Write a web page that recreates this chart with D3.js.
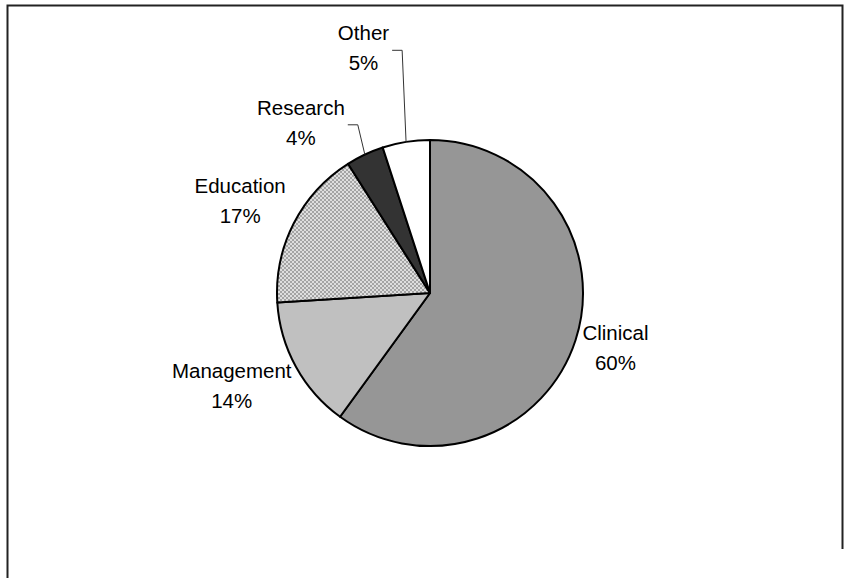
<!DOCTYPE html>
<html>
<head>
<meta charset="utf-8">
<script src="https://cdn.jsdelivr.net/npm/d3@7"></script>
<style>
  html, body { margin: 0; padding: 0; background: #fff; }
  svg { display: block; }
  text { font-family: "Liberation Sans", Arial, sans-serif; font-size: 20.5px; fill: #000; }
</style>
</head>
<body>
<svg id="chart" width="844" height="578"></svg>
<script>
// Share of time by activity (percent)
const categories = ["Clinical", "Management", "Education", "Research", "Other"];
const shares = [60, 14, 17, 4, 5];

const W = 844, H = 578;
const cx = 430, cy = 293, radius = 153;

const fills = {
  Clinical: "#969696",
  Management: "#c0c0c0",
  Education: "url(#dots)",
  Research: "#333333",
  Other: "#ffffff"
};

// Labels sit just outside the rim; small slices are pulled out and get leader lines
const labelRadius = 163;
const labelNudge = {
  Clinical: [-1, -3],
  Management: [-3, 3],
  Education: [-4, -7],
  Research: [-41, -1],
  Other: [-37, -60]
};
const withLeader = new Set(["Research", "Other"]);

const svg = d3.select("#chart");

// Fine dotted fill for the Education slice
const pat = svg.append("defs").append("pattern")
  .attr("id", "dots").attr("patternUnits", "userSpaceOnUse")
  .attr("width", 4).attr("height", 4);
pat.append("rect").attr("width", 4).attr("height", 4).attr("fill", "#dedede");
pat.append("rect").attr("width", 2).attr("height", 2).attr("fill", "#a4a4a4");
pat.append("rect").attr("x", 2).attr("y", 2).attr("width", 2).attr("height", 2).attr("fill", "#a4a4a4");

// Chart area frame
svg.append("path")
  .attr("d", `M7.5,${H} V5.5 H842.5 V549`)
  .attr("fill", "none").attr("stroke", "#222").attr("stroke-width", 2);

const data = categories.map((c, i) => ({ name: c, value: shares[i] }));
const pie = d3.pie().sort(null).value(d => d.value);
const arcs = pie(data);
const arc = d3.arc().innerRadius(0).outerRadius(radius);

const g = svg.append("g").attr("transform", `translate(${cx},${cy})`);

g.selectAll("path.slice")
  .data(arcs)
  .join("path")
  .attr("class", "slice")
  .attr("d", arc)
  .attr("fill", d => fills[d.data.name])
  .attr("stroke", "#000")
  .attr("stroke-width", 2)
  .attr("stroke-linejoin", "round");

const lineGap = 30;
arcs.forEach(d => {
  const mid = (d.startAngle + d.endAngle) / 2;
  const s = Math.sin(mid), c = Math.cos(mid);
  const t = g.append("text").attr("text-anchor", "middle");
  const l1 = t.append("tspan").attr("x", 0).attr("y", 0).text(d.data.name);
  const l2 = t.append("tspan").attr("x", 0).attr("y", lineGap).text(d3.format(".0f")(d.value) + "%");
  const w = Math.max(l1.node().getComputedTextLength(), l2.node().getComputedTextLength());
  const h = 48;
  const px = labelRadius * s, py = -labelRadius * c;
  const nudge = labelNudge[d.data.name];
  const bx = px + s * w / 2 + nudge[0];
  const by = py - c * h / 2 + nudge[1];
  t.attr("transform", `translate(${bx},${by - 8})`);

  if (withLeader.has(d.data.name)) {
    const ex = radius * s, ey = -radius * c;
    const sx = bx + w / 2 + 3, sy = by + 2;
    g.append("path")
      .attr("d", `M${sx},${sy} H${sx + 10} L${ex},${ey}`)
      .attr("fill", "none").attr("stroke", "#333").attr("stroke-width", 1);
  }
});
</script>
</body>
</html>
